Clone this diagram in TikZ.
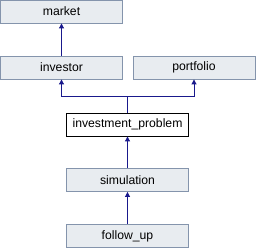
\documentclass[tikz,border=0pt]{standalone}
\usepackage{fontspec}
\setmainfont{Liberation Sans}
\usetikzlibrary{arrows.meta}
\definecolor{nodefill}{RGB}{232,236,240}
\definecolor{nodeborder}{RGB}{132,148,172}
\definecolor{edgecol}{RGB}{25,25,140}
\begin{document}
\begin{tikzpicture}[x=1pt,y=-1pt,
  cls/.style={draw=nodeborder,fill=nodefill,line width=0.9pt,minimum width=122pt,minimum height=23pt,inner sep=0pt,font=\fontsize{12.2}{14}\selectfont},
  cur/.style={cls,draw=black,fill=white},
  inh/.style={draw=edgecol,line width=1pt,-{Triangle[length=5pt,width=5pt]}}]
\useasboundingbox (0,0) rectangle (256,248);
\node[cls] (market) at (61.5,11.5) {market};
\node[cls] (investor) at (61.5,67.5) {investor};
\node[cls] (portfolio) at (194,67.5) {portfolio};
\node[cur] (ip) at (127.5,124.5) {investment\_problem};
\node[cls] (sim) at (127.5,180) {simulation};
\node[cls] (fu) at (127.5,236) {follow\_up};
\coordinate (j) at (127.5,96.7);
\draw[inh] (investor.north) -- (market.south);
\draw[inh] (ip.north) -- (j) -| (investor.south);
\draw[inh] (j) -| (portfolio.south);
\draw[inh] (sim.north) -- (ip.south);
\draw[inh] (fu.north) -- (sim.south);
\end{tikzpicture}
\end{document}
